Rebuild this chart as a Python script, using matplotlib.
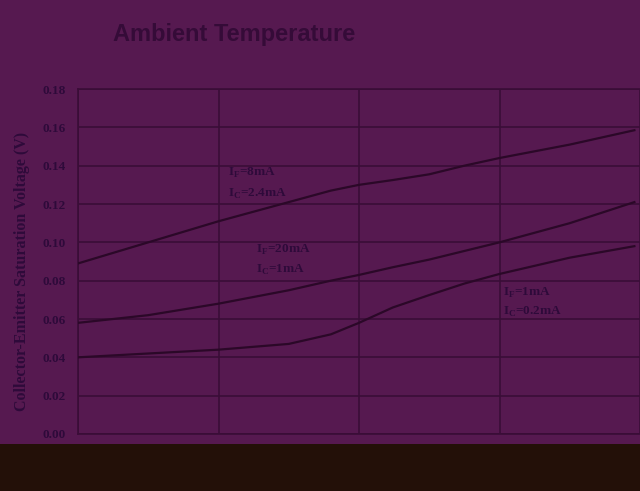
import numpy as np
import matplotlib.pyplot as plt
from matplotlib.patches import Rectangle

# Datos (temperatura ambiente en grados C, voltaje en V)
temp = [-25, -12.5, 0, 12.5, 20, 25, 31, 37.5, 43.75, 50, 62.5, 74]
vce_8mA = [0.089, 0.100, 0.111, 0.121, 0.127, 0.130, 0.1325, 0.1355, 0.140, 0.144, 0.151, 0.1585]
vce_20mA = [0.058, 0.062, 0.068, 0.075, 0.080, 0.083, 0.087, 0.091, 0.0955, 0.100, 0.110, 0.121]
vce_1mA = [0.040, 0.042, 0.044, 0.047, 0.052, 0.058, 0.066, 0.0725, 0.0785, 0.0835, 0.092, 0.098]

x_ticks = [-25, 0, 25, 50, 75]
y_ticks = np.arange(0, 0.181, 0.02)

bg = '#561950'
dark = '#2b0828'
grid_c = '#3a0d37'
text_c = '#2e0a3a'

fig = plt.figure(figsize=(6.4, 4.91), dpi=100)
fig.patch.set_facecolor(bg)

# banda oscura inferior
fig.patches.append(Rectangle((0, 0), 1, 0.0957, transform=fig.transFigure,
                             facecolor='#231008', edgecolor='none', zorder=0))

ax = fig.add_axes([0.1219, 0.1161, 0.8781, 0.7026])
ax.set_facecolor(bg)

for serie in (vce_8mA, vce_20mA, vce_1mA):
    ax.plot(temp, serie, color=dark, linewidth=1.6, zorder=3)

ax.set_xlim(-25, 73)
ax.set_ylim(0, 0.18)
ax.set_xticks(x_ticks)
ax.set_yticks(y_ticks)
ax.set_yticklabels(['%.2f' % v for v in y_ticks], fontfamily='Liberation Serif',
                   fontweight='bold', fontsize=9.5, color=text_c)
ax.set_xticklabels([str(v) for v in x_ticks], fontfamily='Liberation Serif',
                   fontweight='bold', fontsize=9.5, color='#3a1010')
ax.tick_params(length=0, pad=9)
ax.grid(True, color=grid_c, linewidth=1.2)

for s in ['left', 'bottom', 'top']:
    ax.spines[s].set_color(grid_c)
    ax.spines[s].set_linewidth(1.2)
ax.spines['right'].set_visible(False)

ax.set_ylabel('Collector-Emitter Saturation Voltage (V)', fontfamily='Liberation Serif',
              fontweight='bold', fontsize=11.5, color=text_c)
ax.yaxis.set_label_coords(-0.086, 0.47)
ax.set_xlabel('Ambient Temperature (°C)', fontfamily='Liberation Serif',
              fontweight='bold', fontsize=10.5, color='#3a1010', labelpad=4)

# etiquetas de las curvas
kw = dict(fontfamily='Liberation Serif', fontweight='bold', fontsize=9.5,
          color=text_c, va='center', ha='left')
ax.text(1.6, 0.1360, r'I$_\mathregular{F}$=8mA', **kw)
ax.text(1.6, 0.1255, r'I$_\mathregular{C}$=2.4mA', **kw)
ax.text(6.7, 0.0960, r'I$_\mathregular{F}$=20mA', **kw)
ax.text(6.7, 0.0855, r'I$_\mathregular{C}$=1mA', **kw)
ax.text(50.7, 0.0735, r'I$_\mathregular{F}$=1mA', **kw)
ax.text(50.7, 0.0635, r'I$_\mathregular{C}$=0.2mA', **kw)

fig.text(0.366, 0.930, 'Ambient Temperature', fontfamily='Liberation Sans',
         fontweight='bold', fontsize=17, color='#350b38', ha='center', va='center')

plt.savefig('out.png', dpi=100, facecolor=bg)
